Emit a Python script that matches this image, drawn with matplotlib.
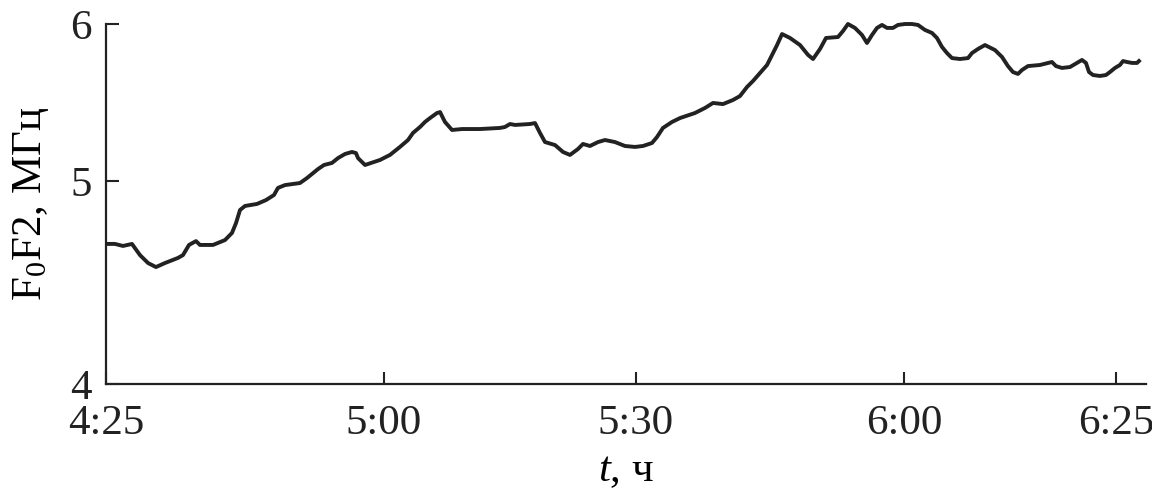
import numpy as np
import matplotlib
matplotlib.use("Agg")
import matplotlib.pyplot as plt

plt.rcParams['font.family'] = ['Liberation Serif', 'DejaVu Serif']
plt.rcParams['mathtext.fontset'] = 'custom'
plt.rcParams['mathtext.rm'] = 'Liberation Serif'
plt.rcParams['mathtext.it'] = 'Liberation Serif:italic'

# время в минутах от полуночи (4:25 = 265)
t_min = [265.13, 266.13, 267.14, 268.27, 269.28, 270.29, 271.29, 272.43, 274.06, 274.69,
         275.45, 276.33, 276.83, 278.47, 279.98, 280.86, 281.37, 281.87, 282.50, 284.01,
         285.14, 286.15, 286.65, 287.54, 289.42, 290.31, 291.69, 292.45, 293.45, 294.21,
         295.09, 295.97, 296.47, 296.73, 297.61, 299.50, 300.71, 301.90, 302.86, 303.45,
         304.29, 304.88, 305.48, 306.31, 306.67, 307.26, 308.10, 309.29, 311.43, 313.81,
         314.40, 315.00, 315.60, 317.38, 317.98, 318.57, 319.17, 320.36, 321.31, 322.14,
         323.10, 323.69, 324.52, 325.48, 326.31, 327.50, 328.69, 329.88, 330.78, 331.79,
         332.35, 333.02, 334.03, 334.93, 336.60, 337.72, 338.62, 339.74, 340.86, 341.64,
         342.43, 343.10, 343.88, 344.67, 345.23, 345.79, 346.35, 347.24, 348.36, 349.26,
         349.82, 350.60, 351.27, 352.61, 353.17, 353.73, 354.51, 355.30, 355.86, 356.42,
         356.98, 357.54, 358.10, 358.77, 359.33, 360.12, 360.94, 361.65, 362.48, 363.30,
         363.89, 364.48, 365.07, 365.66, 366.60, 367.55, 368.02, 368.73, 369.55, 370.73,
         371.56, 372.26, 372.85, 373.44, 373.92, 374.62, 376.04, 376.98, 377.45, 377.92,
         378.63, 379.58, 380.40, 380.99, 381.46, 381.82, 382.29, 383.11, 383.82, 384.29,
         384.88, 385.47, 385.83, 386.30, 386.89, 387.48, 387.71]

# foF2, МГц
fof2 = [4.69, 4.69, 4.68, 4.69, 4.635, 4.596, 4.576, 4.596, 4.621, 4.635,
        4.685, 4.704, 4.685, 4.685, 4.709, 4.744, 4.793, 4.857, 4.877, 4.887,
        4.906, 4.931, 4.966, 4.980, 4.990, 5.019, 5.076, 5.102, 5.115, 5.146,
        5.172, 5.185, 5.178, 5.146, 5.102, 5.134, 5.166, 5.217, 5.261, 5.306,
        5.344, 5.376, 5.401, 5.433, 5.439, 5.376, 5.325, 5.331, 5.331, 5.338,
        5.344, 5.363, 5.357, 5.363, 5.369, 5.306, 5.248, 5.229, 5.185, 5.166,
        5.204, 5.236, 5.223, 5.248, 5.261, 5.248, 5.223, 5.217, 5.223, 5.242,
        5.280, 5.338, 5.376, 5.401, 5.433, 5.465, 5.497, 5.490, 5.516, 5.541,
        5.599, 5.637, 5.688, 5.739, 5.803, 5.866, 5.936, 5.911, 5.866, 5.803,
        5.777, 5.841, 5.911, 5.917, 5.955, 6.000, 5.975, 5.930, 5.879, 5.930,
        5.975, 5.994, 5.975, 5.975, 5.994, 6.000, 6.000, 5.994, 5.962, 5.943,
        5.911, 5.854, 5.815, 5.783, 5.777, 5.783, 5.815, 5.841, 5.866, 5.834,
        5.790, 5.732, 5.694, 5.682, 5.707, 5.732, 5.739, 5.752, 5.758, 5.732,
        5.720, 5.726, 5.752, 5.771, 5.752, 5.694, 5.675, 5.669, 5.675, 5.694,
        5.720, 5.739, 5.764, 5.758, 5.752, 5.752, 5.764]

x_ticks = [265, 300, 330, 360, 385]
x_labels = ['4:25', '5:00', '5:30', '6:00', '6:25']
y_ticks = [4, 5, 6]

# неравномерные шкалы, как на исходном рисунке
xk = [250, 265, 300, 330, 360, 385, 400]
xp = [-13.1, 106, 384, 636, 904, 1116, 1243.2]
yk = [3.5, 4, 5, 6, 6.5]
yp = [-101.5, 0, 203, 360, 438.5]


def fx(v):
    return np.interp(v, xk, xp)


def fx_inv(v):
    return np.interp(v, xp, xk)


def fy(v):
    return np.interp(v, yk, yp)


def fy_inv(v):
    return np.interp(v, yp, yk)


fig = plt.figure(figsize=(11.52, 4.94), dpi=100)
ax = fig.add_axes([106 / 1152, 1 - 384 / 494, 1040 / 1152, 360 / 494])
ax.set_xscale('function', functions=(fx, fx_inv))
ax.set_yscale('function', functions=(fy, fy_inv))

ax.plot(t_min, fof2, color='#222222', lw=2.8, solid_joinstyle='round', clip_on=False)

ax.set_xlim(265, 388.54)
ax.set_ylim(4, 6)
ax.set_xticks(x_ticks)
ax.set_xticklabels(x_labels)
ax.set_yticks(y_ticks)
ax.set_yticklabels([str(v) for v in y_ticks])
ax.minorticks_off()

for s in ['top', 'right']:
    ax.spines[s].set_visible(False)
for s in ['left', 'bottom']:
    ax.spines[s].set_linewidth(1.6)
    ax.spines[s].set_color('#222222')

ax.tick_params(direction='in', length=9, width=1.5, colors='#222222', labelsize=31)
ax.tick_params(axis='x', pad=15)
ax.tick_params(axis='y', pad=10)

ax.set_xlabel('$t$, ч', fontsize=31, labelpad=6)
ax.set_ylabel('F$_0$F2, МГц', fontsize=31, labelpad=14)

fig.savefig('out.png', dpi=100)
